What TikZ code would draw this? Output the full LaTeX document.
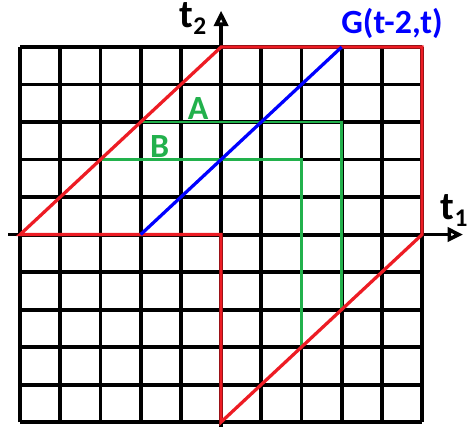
\documentclass[tikz,border=0pt]{standalone}
\usepackage{fontspec}
\setmainfont{Carlito}
\usetikzlibrary{arrows.meta}
\definecolor{regionred}{RGB}{237,28,36}
\definecolor{diagblue}{RGB}{0,0,255}
\definecolor{stripgreen}{RGB}{34,177,76}

\begin{document}
\begin{tikzpicture}[x=1cm,y=0.933cm,
  gridline/.style={black,line width=2.8pt},
  axis/.style={black,line width=2.6pt,-{Triangle[open,length=11pt,width=10pt,line width=2.6pt]}},
  region/.style={regionred,line width=2.3pt,line join=miter},
  diag/.style={diagblue,line width=2.3pt},
  strip/.style={stripgreen,line width=2.1pt},
  lbl/.style={font=\fontsize{24}{28}\selectfont\bfseries,inner sep=0pt},
  axislbl/.style={font=\fontsize{28}{32}\selectfont\bfseries,inner sep=0pt}
]
\useasboundingbox (-5.50,-5.187) rectangle (6.117,6.253);
% grid and axes
\draw[gridline] (-5,-5) grid[step=1] (5,5);
\draw[axis] (-5.3,0) -- (6.02,0);
\draw[axis] (0,-5.12) -- (0,5.97);
% strips A and B
\draw[strip] (-2,3) -- (3,3) -- (3,-2);
\draw[strip] (-3,2) -- (2,2) -- (2,-3);
% region
\draw[region] (-5,0) -- (0,5) -- (5,5) -- (5,0) -- (0,-5) -- (0,0) -- cycle;
% diagonal
\draw[diag] (-2,0) -- (3,5);
% labels
\node[lbl,text=diagblue] (glabel) at (4.25,5.62) {G(t-2,t)};
\node[lbl,text=stripgreen] (alabel) at (-0.57,3.36) {A};
\node[lbl,text=stripgreen] (blabel) at (-1.53,2.34) {B};
\node[axislbl] (t2label) at (-0.70,5.75) {t\raisebox{-0.35ex}{\fontsize{18}{18}\selectfont 2}};
\node[axislbl] (t1label) at (5.80,0.64) {t\raisebox{-0.35ex}{\fontsize{18}{18}\selectfont 1}};
\end{tikzpicture}
\end{document}
